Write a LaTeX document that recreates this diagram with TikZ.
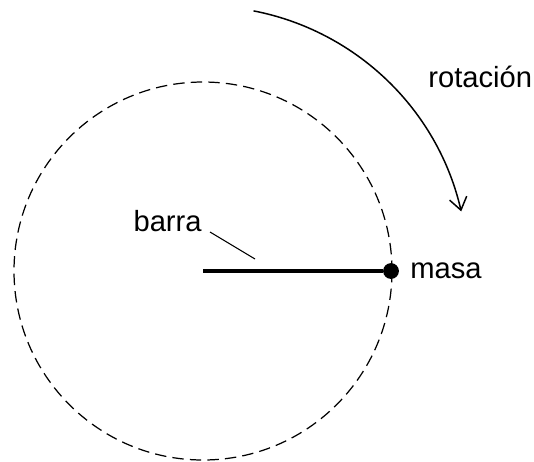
\documentclass[tikz,border=0pt]{standalone}
\usepackage{fontspec}
\setmainfont{Liberation Sans}
\usetikzlibrary{arrows.meta}
\begin{document}
\begin{tikzpicture}[x=0.02cm,y=-0.02cm,
    lbl/.style={inner sep=0pt,font=\fontsize{16.6}{19}\selectfont}]
        \useasboundingbox (0,0) rectangle (534,461);
        \coordinate (c) at (203,271);
        \draw[dashed,line width=0.7pt,dash pattern=on 6.5pt off 3.5pt] (c) circle (189);
        \node[circle,fill,inner sep=0pt,minimum size=9pt] (m) at (391,271) {};
        \draw[line width=1.9pt] (c) -- (m);
        \node[lbl,anchor=west] (masa) at (410,271) {masa};
        \node[lbl,anchor=base east] (barra) at (202,231) {barra};
        \coordinate (b1) at (210,232);
        \coordinate (b2) at (255,259);
        \draw[line width=0.6pt] (b1) -- (b2);
        \node[lbl,anchor=base west] (rot) at (428,87) {rotación};
        \draw[line width=0.85pt,-{Straight Barb[length=7pt,width=10pt]}] (c) ++(-79:265) arc (-79:-13:265);
\end{tikzpicture}
\end{document}
